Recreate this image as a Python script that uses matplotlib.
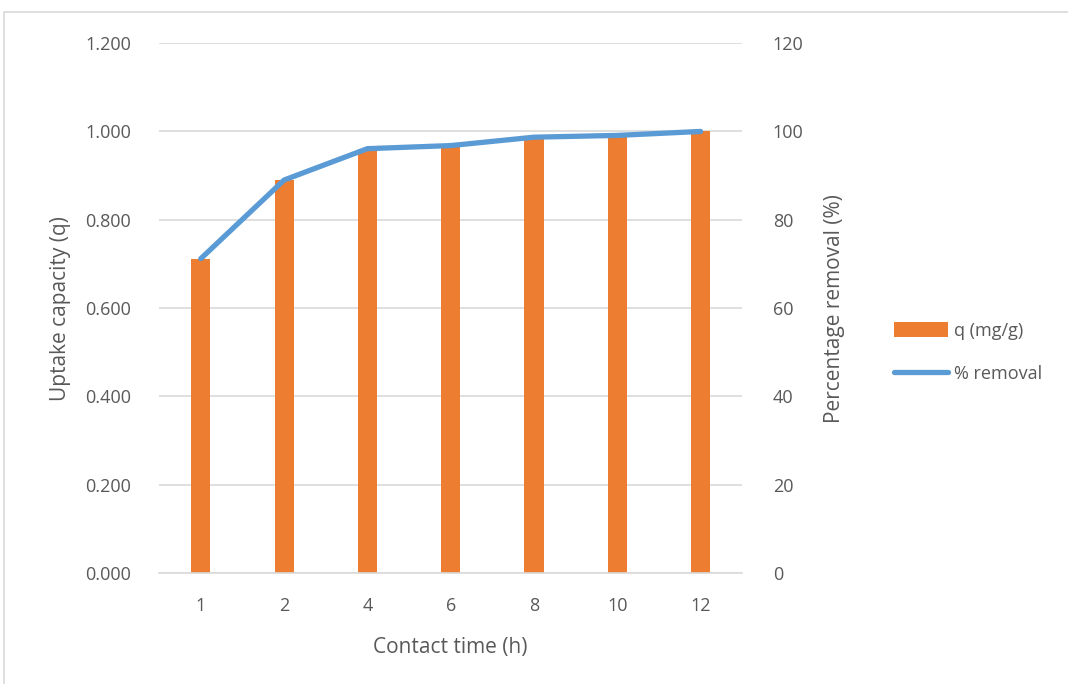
import numpy as np
import matplotlib.pyplot as plt
from matplotlib.patches import Rectangle

# data
contact_time = ["1", "2", "4", "6", "8", "10", "12"]
q_uptake = [0.712, 0.890, 0.960, 0.967, 0.985, 0.988, 1.000]
removal_pct = [71.2, 89.0, 96.1, 96.8, 98.7, 99.1, 100.0]

plt.rcParams['font.family'] = ['Open Sans', 'DejaVu Sans']

fig = plt.figure(figsize=(10.68, 6.84), dpi=100)
fig.patches.append(Rectangle((4 / 1068, -0.01), 1.1, 1 - 12 / 684 + 0.01,
                             transform=fig.transFigure, fill=False,
                             edgecolor="#D9D9D9", linewidth=1.2))

ax = fig.add_axes([0.149, 0.162, 0.546, 0.775])
x = np.arange(len(contact_time))

ax.bar(x, q_uptake, width=0.23, color="#ED7D31", label="q (mg/g)", zorder=2)
ax.set_ylim(0, 1.2)
ax.set_xlim(-0.5, len(x) - 0.5)
ax.set_yticks(np.arange(0, 1.21, 0.2))
ax.set_yticklabels([f"{v:.3f}" for v in np.arange(0, 1.21, 0.2)])
ax.set_xticks(x)
ax.set_xticklabels(contact_time)
ax.grid(axis="y", color="#D9D9D9", linewidth=1.2, zorder=0)
ax.set_axisbelow(True)
for s in ["top", "left", "right"]:
    ax.spines[s].set_visible(False)
ax.spines["bottom"].set_color("#D9D9D9")
ax.spines["bottom"].set_linewidth(1.2)
ax.tick_params(length=0, labelsize=13, colors="#595959", pad=17)
ax.tick_params(axis="y", pad=20)
ax.set_xlabel("Contact time (h)", fontsize=15, color="#595959", labelpad=16)
ax.set_ylabel("Uptake capacity (q)", fontsize=15, color="#595959", labelpad=10)

ax2 = ax.twinx()
ax2.plot(x, removal_pct, color="#5B9BD5", linewidth=3.8, solid_capstyle="round",
         label="% removal", zorder=3)
ax2.set_ylim(0, 120)
ax2.set_yticks(np.arange(0, 121, 20))
for s in ["top", "left", "right", "bottom"]:
    ax2.spines[s].set_visible(False)
ax2.tick_params(length=0, labelsize=13, colors="#595959", pad=22)
ax2.set_ylabel("Percentage removal (%)", fontsize=15, color="#595959", labelpad=15)

h1, l1 = ax.get_legend_handles_labels()
h2, l2 = ax2.get_legend_handles_labels()
fig.legend(h1 + h2, l1 + l2, loc="center left", bbox_to_anchor=(0.822, 0.485),
           frameon=False, fontsize=13, labelcolor="#595959", handlelength=3.0,
           handletextpad=0.3, labelspacing=1.4, handleheight=0.9)

plt.savefig("out.png", dpi=100)
